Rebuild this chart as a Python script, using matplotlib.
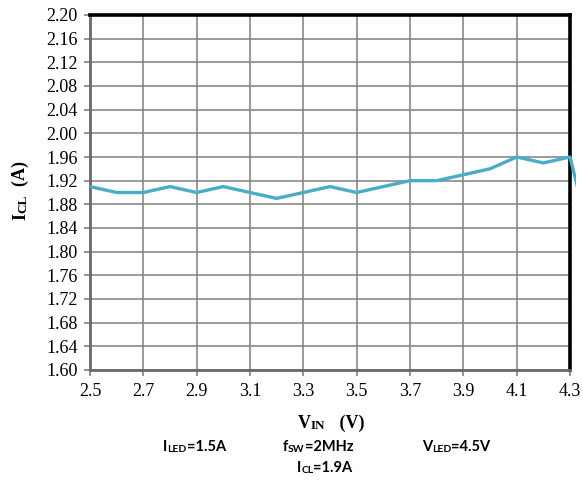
import matplotlib
matplotlib.use("Agg")
import matplotlib.pyplot as plt
from matplotlib.patches import Rectangle

# %% Data
vin = [2.5, 2.6, 2.7, 2.8, 2.9, 3.0, 3.1, 3.2, 3.3, 3.4, 3.5, 3.6, 3.7, 3.8,
       3.9, 4.0, 4.1, 4.2, 4.3, 4.4]
icl = [1.91, 1.90, 1.90, 1.91, 1.90, 1.91, 1.90, 1.89, 1.90, 1.91, 1.90,
       1.91, 1.92, 1.92, 1.93, 1.94, 1.96, 1.95, 1.96, 1.78]
x_ticks = [2.5, 2.7, 2.9, 3.1, 3.3, 3.5, 3.7, 3.9, 4.1, 4.3]
y_ticks = [1.60 + 0.04 * i for i in range(16)]

SERIF = "Liberation Serif"
SANS = "Lato"
GRAY = "#808080"

fig = plt.figure(figsize=(5.83, 4.8), dpi=100)
ax = fig.add_axes([90 / 583, 1 - 370 / 480, 480 / 583, 355 / 480])

line, = ax.plot(vin, icl, color="#4bacc6", lw=2.4, zorder=3)
# the series runs slightly past the plot area in the reference
clip = Rectangle((0, 0), 1.012, 1, transform=ax.transAxes, visible=False)
ax.add_patch(clip)
line.set_clip_path(clip)

ax.set_xlim(2.5, 4.3)
ax.set_ylim(1.60, 2.20)
ax.set_xticks(x_ticks)
ax.set_yticks(y_ticks)
ax.set_xticklabels([f"{v:.1f}" for v in x_ticks], fontfamily=SERIF, fontsize=13)
ax.set_yticklabels([f"{v:.2f}" for v in y_ticks], fontfamily=SERIF, fontsize=13)
ax.grid(True, color=GRAY, lw=1.1)
ax.tick_params(direction="out", length=4, width=1.2, color=GRAY, pad=5)

for s in ["left", "bottom"]:
    ax.spines[s].set_color("#6a6a6a")
    ax.spines[s].set_linewidth(2.0)
for s in ["top", "right"]:
    ax.spines[s].set_color("black")
    ax.spines[s].set_linewidth(2.6)


def row(x, y, parts, family):
    # horizontal text made of pieces (big letters + small caps)
    prev = None
    for txt, size in parts:
        kw = dict(fontfamily=family, fontsize=size, fontweight="bold")
        if prev is None:
            prev = fig.text(x / 583, 1 - y / 480, txt, ha="left", va="baseline", **kw)
        else:
            prev = plt.annotate(txt, xy=(1, 0), xycoords=prev, ha="left", va="bottom",
                                annotation_clip=False, **kw)
    return prev


def col(x, y, parts, family):
    # same, rotated 90 degrees
    prev = None
    for txt, size in parts:
        kw = dict(fontfamily=family, fontsize=size, fontweight="bold", rotation=90)
        if prev is None:
            prev = fig.text(x / 583, 1 - y / 480, txt, ha="right", va="bottom", **kw)
        else:
            prev = plt.annotate(txt, xy=(1, 1), xycoords=prev, ha="right", va="bottom",
                                annotation_clip=False, **kw)
    return prev


# axis titles
row(298, 428, [("V", 13), ("IN", 9.5), ("   (V)", 13)], SERIF)
col(29, 220, [("I", 13), ("CL", 9.5), ("  (A)", 13)], SERIF)

# conditions
row(163, 451, [("I", 10.5), ("LED", 7.5), ("=1.5A", 10.5)], SANS)
row(283, 451, [("f", 10.5), ("SW", 7.5), ("=2MHz", 10.5)], SANS)
row(422, 451, [("V", 10.5), ("LED", 7.5), ("=4.5V", 10.5)], SANS)
row(297, 472, [("I", 10.5), ("CL", 7.5), ("=1.9A", 10.5)], SANS)

fig.savefig("out.png", dpi=100)
